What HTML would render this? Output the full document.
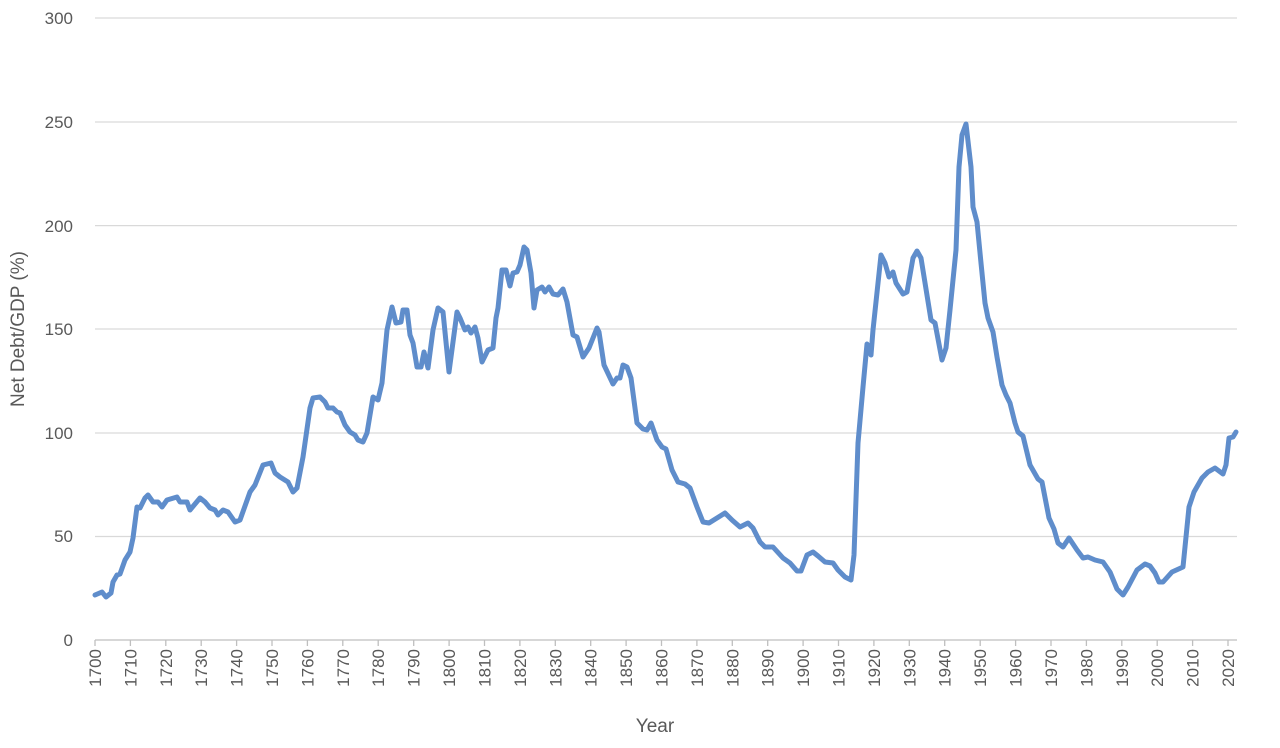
<!DOCTYPE html>
<html><head><meta charset="utf-8"><style>
html,body{margin:0;padding:0;background:#fff;}
svg{display:block;font-family:"Liberation Sans",sans-serif;}
</style></head><body>
<svg width="1280" height="748" viewBox="0 0 1280 748">
<g stroke="#d9d9d9" stroke-width="1.3">
<line x1="95" y1="18" x2="1237" y2="18"/>
<line x1="95" y1="122" x2="1237" y2="122"/>
<line x1="95" y1="225.6" x2="1237" y2="225.6"/>
<line x1="95" y1="329" x2="1237" y2="329"/>
<line x1="95" y1="433" x2="1237" y2="433"/>
<line x1="95" y1="536.5" x2="1237" y2="536.5"/>
</g>
<line x1="95" y1="640" x2="1237" y2="640" stroke="#bfbfbf" stroke-width="1.3"/>
<g fill="#595959" font-size="17" text-anchor="end">
<text x="73" y="24">300</text>
<text x="73" y="128">250</text>
<text x="73" y="232">200</text>
<text x="73" y="335">150</text>
<text x="73" y="439">100</text>
<text x="73" y="542">50</text>
<text x="73" y="646">0</text>
</g>
<g stroke="#bfbfbf" stroke-width="1.3">
<line x1="95" y1="640" x2="95" y2="646"/><line x1="130.4" y1="640" x2="130.4" y2="646"/><line x1="165.8" y1="640" x2="165.8" y2="646"/><line x1="201.2" y1="640" x2="201.2" y2="646"/><line x1="236.6" y1="640" x2="236.6" y2="646"/><line x1="272" y1="640" x2="272" y2="646"/><line x1="307.4" y1="640" x2="307.4" y2="646"/><line x1="342.8" y1="640" x2="342.8" y2="646"/><line x1="378.2" y1="640" x2="378.2" y2="646"/><line x1="413.7" y1="640" x2="413.7" y2="646"/><line x1="449.1" y1="640" x2="449.1" y2="646"/><line x1="484.5" y1="640" x2="484.5" y2="646"/><line x1="519.9" y1="640" x2="519.9" y2="646"/><line x1="555.3" y1="640" x2="555.3" y2="646"/><line x1="590.7" y1="640" x2="590.7" y2="646"/><line x1="626.1" y1="640" x2="626.1" y2="646"/><line x1="661.5" y1="640" x2="661.5" y2="646"/><line x1="696.9" y1="640" x2="696.9" y2="646"/><line x1="732.3" y1="640" x2="732.3" y2="646"/><line x1="767.7" y1="640" x2="767.7" y2="646"/><line x1="803.1" y1="640" x2="803.1" y2="646"/><line x1="838.5" y1="640" x2="838.5" y2="646"/><line x1="873.9" y1="640" x2="873.9" y2="646"/><line x1="909.3" y1="640" x2="909.3" y2="646"/><line x1="944.7" y1="640" x2="944.7" y2="646"/><line x1="980.2" y1="640" x2="980.2" y2="646"/><line x1="1015.6" y1="640" x2="1015.6" y2="646"/><line x1="1051" y1="640" x2="1051" y2="646"/><line x1="1086.4" y1="640" x2="1086.4" y2="646"/><line x1="1121.8" y1="640" x2="1121.8" y2="646"/><line x1="1157.2" y1="640" x2="1157.2" y2="646"/><line x1="1192.6" y1="640" x2="1192.6" y2="646"/><line x1="1228" y1="640" x2="1228" y2="646"/>
</g>
<g fill="#595959" font-size="17" text-anchor="end">
<text transform="translate(101,649) rotate(-90)">1700</text><text transform="translate(136.4,649) rotate(-90)">1710</text><text transform="translate(171.8,649) rotate(-90)">1720</text><text transform="translate(207.2,649) rotate(-90)">1730</text><text transform="translate(242.6,649) rotate(-90)">1740</text><text transform="translate(278,649) rotate(-90)">1750</text><text transform="translate(313.4,649) rotate(-90)">1760</text><text transform="translate(348.8,649) rotate(-90)">1770</text><text transform="translate(384.2,649) rotate(-90)">1780</text><text transform="translate(419.7,649) rotate(-90)">1790</text><text transform="translate(455.1,649) rotate(-90)">1800</text><text transform="translate(490.5,649) rotate(-90)">1810</text><text transform="translate(525.9,649) rotate(-90)">1820</text><text transform="translate(561.3,649) rotate(-90)">1830</text><text transform="translate(596.7,649) rotate(-90)">1840</text><text transform="translate(632.1,649) rotate(-90)">1850</text><text transform="translate(667.5,649) rotate(-90)">1860</text><text transform="translate(702.9,649) rotate(-90)">1870</text><text transform="translate(738.3,649) rotate(-90)">1880</text><text transform="translate(773.7,649) rotate(-90)">1890</text><text transform="translate(809.1,649) rotate(-90)">1900</text><text transform="translate(844.5,649) rotate(-90)">1910</text><text transform="translate(879.9,649) rotate(-90)">1920</text><text transform="translate(915.3,649) rotate(-90)">1930</text><text transform="translate(950.7,649) rotate(-90)">1940</text><text transform="translate(986.2,649) rotate(-90)">1950</text><text transform="translate(1021.6,649) rotate(-90)">1960</text><text transform="translate(1057,649) rotate(-90)">1970</text><text transform="translate(1092.4,649) rotate(-90)">1980</text><text transform="translate(1127.8,649) rotate(-90)">1990</text><text transform="translate(1163.2,649) rotate(-90)">2000</text><text transform="translate(1198.6,649) rotate(-90)">2010</text><text transform="translate(1234,649) rotate(-90)">2020</text>
</g>
<text x="24" y="329" fill="#595959" font-size="19" text-anchor="middle" transform="rotate(-90 24 329)">Net Debt/GDP (%)</text>
<text x="655" y="732" fill="#595959" font-size="19" text-anchor="middle">Year</text>
<polyline fill="none" stroke="#5f8dcb" stroke-width="5" stroke-linejoin="round" stroke-linecap="round" points="
95,595 102,592 106,597 111,593 113,582 117,575 120,574 125,560 130,552 133,538 137,507 140,508 145,498 148,495 153,502 158,502 162,507 167,500 177,497 180,502 187,502 190,510 200,498 205,502 210,508 215,510 218,515 223,510 228,512 235,522 240,520 250,492 255,485 263,465 271,463 275,473 280,477 288,482 293,492 297,488 303,457 310,408 313,398 320,397 325,402 328,408 333,408 337,412 340,413 345,425 350,432 355,435 358,440 363,442 367,433 373,397 378,400 382,383 387,330 392,307 396,323 401,322 403,310 407,310 410,335 413,343 417,367 421,367 424,352 428,368 433,330 438,308 443,312 449,372 457,312 460,318 465,330 468,327 471,333 475,327 478,338 482,362 488,350 493,348 496,318 498,308 502,270 506,270 510,286 513,273 517,272 520,265 524,247 527,250 531,273 534,308 537,290 542,287 545,292 549,287 553,294 558,295 563,289 567,302 573,335 577,337 583,357 589,348 597,328 599,332 604,365 613,384 617,378 620,378 623,365 627,367 631,378 637,423 643,429 647,430 651,423 657,440 662,447 666,449 672,470 678,482 685,484 690,488 697,507 703,522 709,523 725,513 732,520 740,527 748,523 753,528 760,542 765,547 773,547 783,558 790,563 797,571 801,571 807,555 813,552 818,556 825,562 833,563 838,570 845,577 851,580 854,555 858,443 863,387 867,344 871,355 873,330 881,255 885,263 889,277 893,272 896,283 903,294 907,292 913,258 917,251 921,258 931,320 935,323 942,360 946,348 950,310 956,250 959,167 962,135 966,124 971,167 973,207 977,222 981,263 985,303 988,318 993,332 997,357 1002,385 1006,395 1010,403 1015,423 1018,432 1023,436 1030,465 1038,479 1042,482 1049,518 1054,529 1058,543 1063,547 1069,538 1077,550 1083,558 1088,557 1095,560 1103,562 1110,572 1117,589 1123,595 1128,587 1137,570 1145,564 1150,566 1155,573 1159,582 1163,582 1172,572 1183,567 1189,507 1194,492 1202,478 1208,472 1215,468 1223,474 1226,465 1229,438 1233,437 1236,432"/>
</svg>
</body></html>
